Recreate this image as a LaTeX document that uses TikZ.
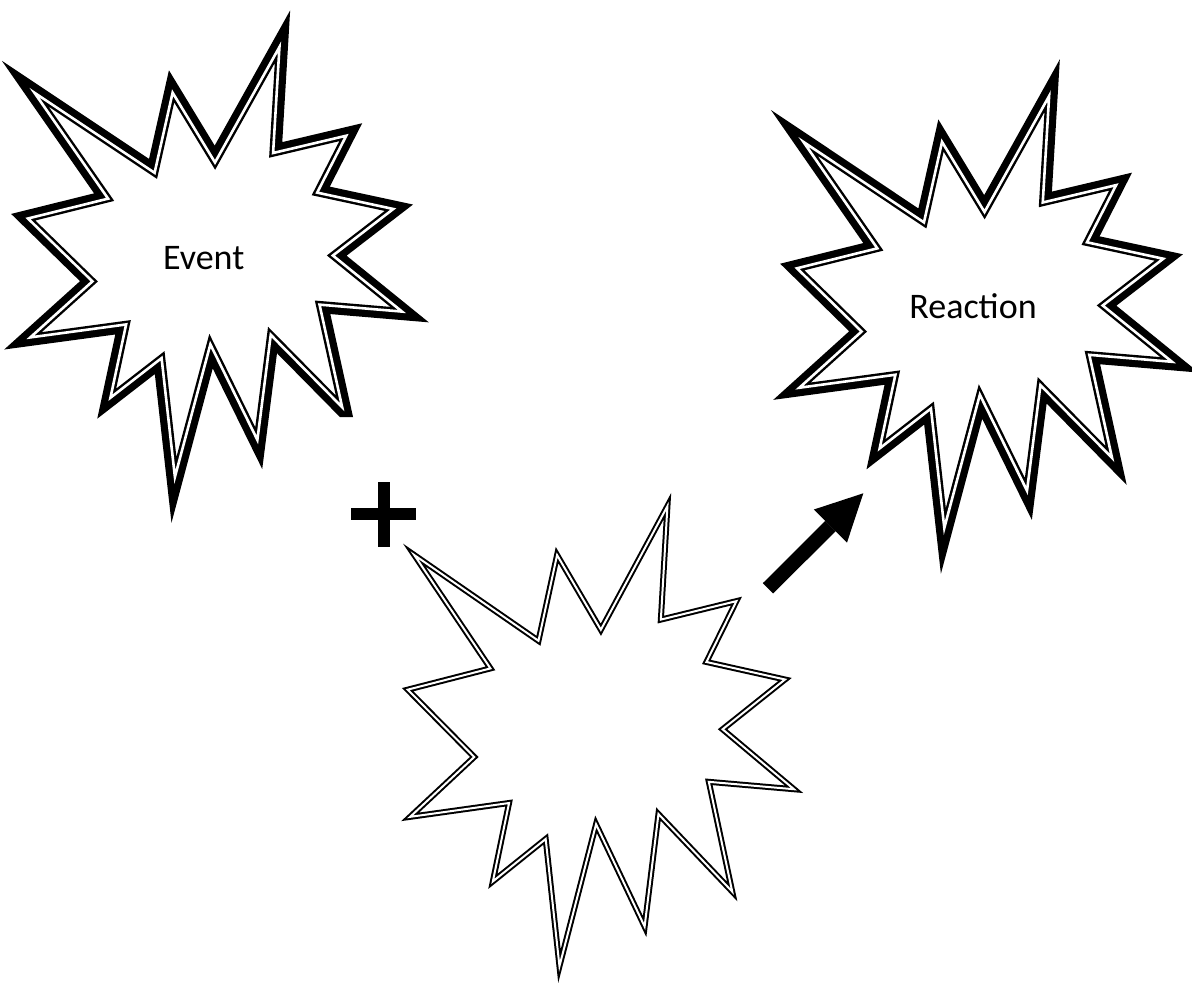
\documentclass[tikz,border=0pt]{standalone}
\usepackage{fontspec}
\setmainfont{Carlito}
\usetikzlibrary{arrows.meta}
\newcommand\burstpath{(108,58) -- (145.22,0) -- (141.55,53.25) -- (183.80,44.57) -- (167.02,73.15) -- (210.97,81.37) -- (176.07,104.75) -- (216,132.90) -- (168.37,129.42) -- (181.45,180.95) -- (140.20,144.57) -- (132.47,197.37) -- (105.32,149.35) -- (84.85,216) -- (77.15,156.27) -- (47.62,176.17) -- (56.67,139.37) -- (1.35,145.87) -- (37.22,117.75) -- (0,86.15) -- (46.27,76.17) -- (3.70,22.95) -- (73.12,63.20) -- (83.52,22.95) -- cycle}
% thick-thin compound outline (thick outside)
\newcommand\thickthinburst[4]{%
  \begin{scope}[shift={(#1,#2)}, x=#3, y=#4]
    \draw[line width=8.5pt] \burstpath;
    \begin{scope}
      \clip \burstpath;
      \fill[white] \burstpath;
      \draw[line width=3.7pt] \burstpath;
    \end{scope}
    \draw[white, line width=1.3pt] \burstpath;
  \end{scope}}
% double thin outline
\newcommand\doubleburst[4]{%
  \begin{scope}[shift={(#1,#2)}, x=#3, y=#4]
    \fill[white] \burstpath;
    \draw[line width=3pt] \burstpath;
    \draw[white, line width=1pt] \burstpath;
  \end{scope}}
\tikzset{
  lbl/.style={font=\fontsize{18pt}{21pt}\selectfont, anchor=base, inner sep=0pt},
  bigarrow/.style={line width=7.3pt, line cap=butt,
    -{Triangle[length=23.2pt, width=23.4pt, line width=0pt]}},
}
\begin{document}
\begin{tikzpicture}[x=0.5pt, y=-0.5pt, miter limit=30]
  \fill[white] (0,0) rectangle (1192,984);
  \useasboundingbox (0,0) rectangle (1192,984);
  \clip (0,0) rectangle (1192,984);
  % bursts
  \begin{scope}
    % the reference cuts off one lower tip of the first burst flat
    \clip (0,0) -| (1192,984) -| (365,417) -| (330,984) -| (0,0) -- cycle;
    \thickthinburst{28}{47}{0.86574pt}{-0.99537pt}
  \end{scope}
  \thickthinburst{797}{96}{0.86806pt}{-1.0pt}
  \doubleburst{407.7}{506.2}{0.89421pt}{-1.06481pt}
  % labels
  \node[lbl] (event) at (203.7,269.3) {Event};
  \node[lbl] (reaction) at (973,318.3) {Reaction};
  % plus sign
  \coordinate (plus) at (383.8,514.2);
  \fill ([shift={(-32.5,-6.1)}]plus) rectangle ([shift={(32.5,6.1)}]plus);
  \fill ([shift={(-6.1,-32.5)}]plus) rectangle ([shift={(6.1,32.5)}]plus);
  % arrow
  \coordinate (atail) at (768,588.3);
  \coordinate (ahead) at (863.3,493.3);
  \draw[bigarrow] (atail) -- (ahead);
\end{tikzpicture}
\end{document}
